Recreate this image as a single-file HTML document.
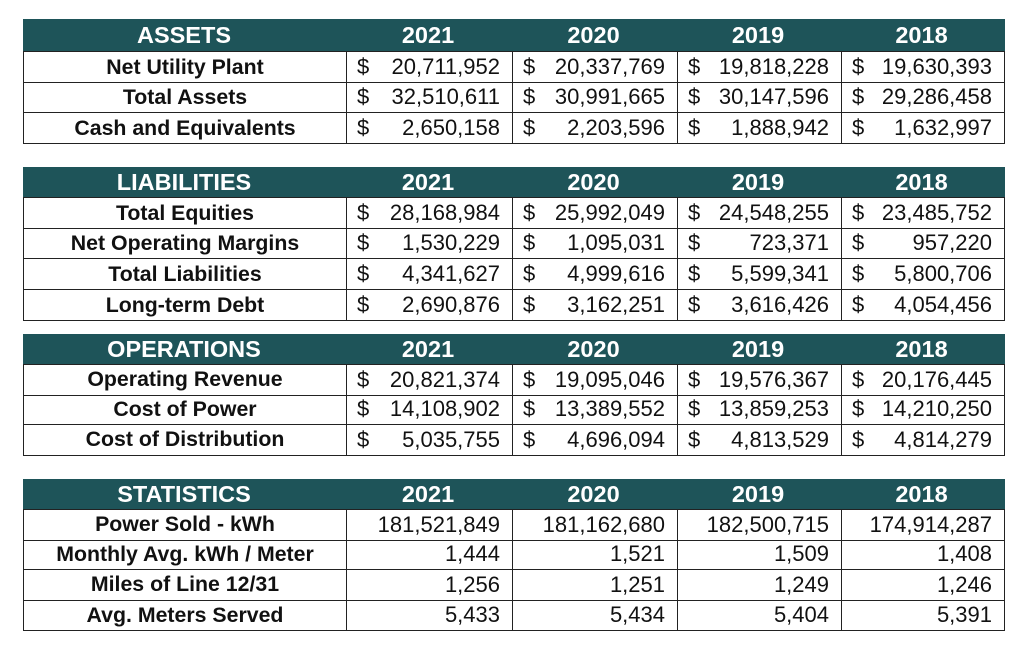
<!DOCTYPE html>
<html><head><meta charset="utf-8"><style>
body{margin:0;width:1024px;height:651px;background:#fff;position:relative;font-family:"Liberation Sans",Arial,sans-serif;overflow:hidden}
.h{position:absolute;left:23px;width:982px;background:#1e5459;color:#fff;font-weight:bold;font-size:23.5px}
.h div{position:absolute;top:0;bottom:0;display:flex;align-items:center;justify-content:center}
.r{position:absolute;left:23px;width:980px;border:1px solid #222;border-top:none;font-size:22px;color:#111}
.r.f{border-top:1px solid #222}
.r div{position:absolute;top:0;bottom:0;display:flex;align-items:center}
.l{left:0;width:322px;justify-content:center;font-weight:bold;font-size:21.3px}
.c{border-left:1px solid #222;justify-content:flex-end;padding-right:12px;box-sizing:border-box}
.c span{position:absolute;left:10px}
</style></head><body>
<script>
const cols=[[322,166],[488,165],[653,164],[817,163]];
function hdr(y,h,t){let s=`<div class="h" style="top:${y}px;height:${h}px"><div style="left:0;width:322px">${t}</div>`;
['2021','2020','2019','2018'].forEach((v,i)=>s+=`<div style="left:${cols[i][0]}px;width:${cols[i][1]}px">${v}</div>`);return s+'</div>';}
function row(y,h,lab,vals,dol,first){let s=`<div class="r${first?' f':''}" style="top:${y}px;height:${h}px"><div class="l">${lab}</div>`;
vals.forEach((v,i)=>s+=`<div class="c" style="left:${cols[i][0]}px;width:${cols[i][1]}px">${dol?'<span>$</span>':''}${v}</div>`);return s+'</div>';}
let o='';
o+=hdr(19,32,'ASSETS');
[['Net Utility Plant',['20,711,952','20,337,769','19,818,228','19,630,393']],
['Total Assets',['32,510,611','30,991,665','30,147,596','29,286,458']],
['Cash and Equivalents',['2,650,158','2,203,596','1,888,942','1,632,997']]].forEach((r,i)=>o+=row(51+i*31,30,r[0],r[1],1,i==0));
o+=hdr(167,30,'LIABILITIES');
[['Total Equities',['28,168,984','25,992,049','24,548,255','23,485,752']],
['Net Operating Margins',['1,530,229','1,095,031','723,371','957,220']],
['Total Liabilities',['4,341,627','4,999,616','5,599,341','5,800,706']],
['Long-term Debt',['2,690,876','3,162,251','3,616,426','4,054,456']]].forEach((r,i)=>o+=row(197+i*31,30,r[0],r[1],1,i==0));
o+=hdr(334,30,'OPERATIONS');
[['Operating Revenue',['20,821,374','19,095,046','19,576,367','20,176,445']],
['Cost of Power',['14,108,902','13,389,552','13,859,253','14,210,250']],
['Cost of Distribution',['5,035,755','4,696,094','4,813,529','4,814,279']]].forEach((r,i)=>o+=row(364+i*30.5,29.5,r[0],r[1],1,i==0));
o+=hdr(479,30,'STATISTICS');
[['Power Sold - kWh',['181,521,849','181,162,680','182,500,715','174,914,287']],
['Monthly Avg. kWh / Meter',['1,444','1,521','1,509','1,408']],
['Miles of Line 12/31',['1,256','1,251','1,249','1,246']],
['Avg. Meters Served',['5,433','5,434','5,404','5,391']]].forEach((r,i)=>o+=row(509+i*30.5,29.5,r[0],r[1],0,i==0));
document.write(o);
</script>
</body></html>
